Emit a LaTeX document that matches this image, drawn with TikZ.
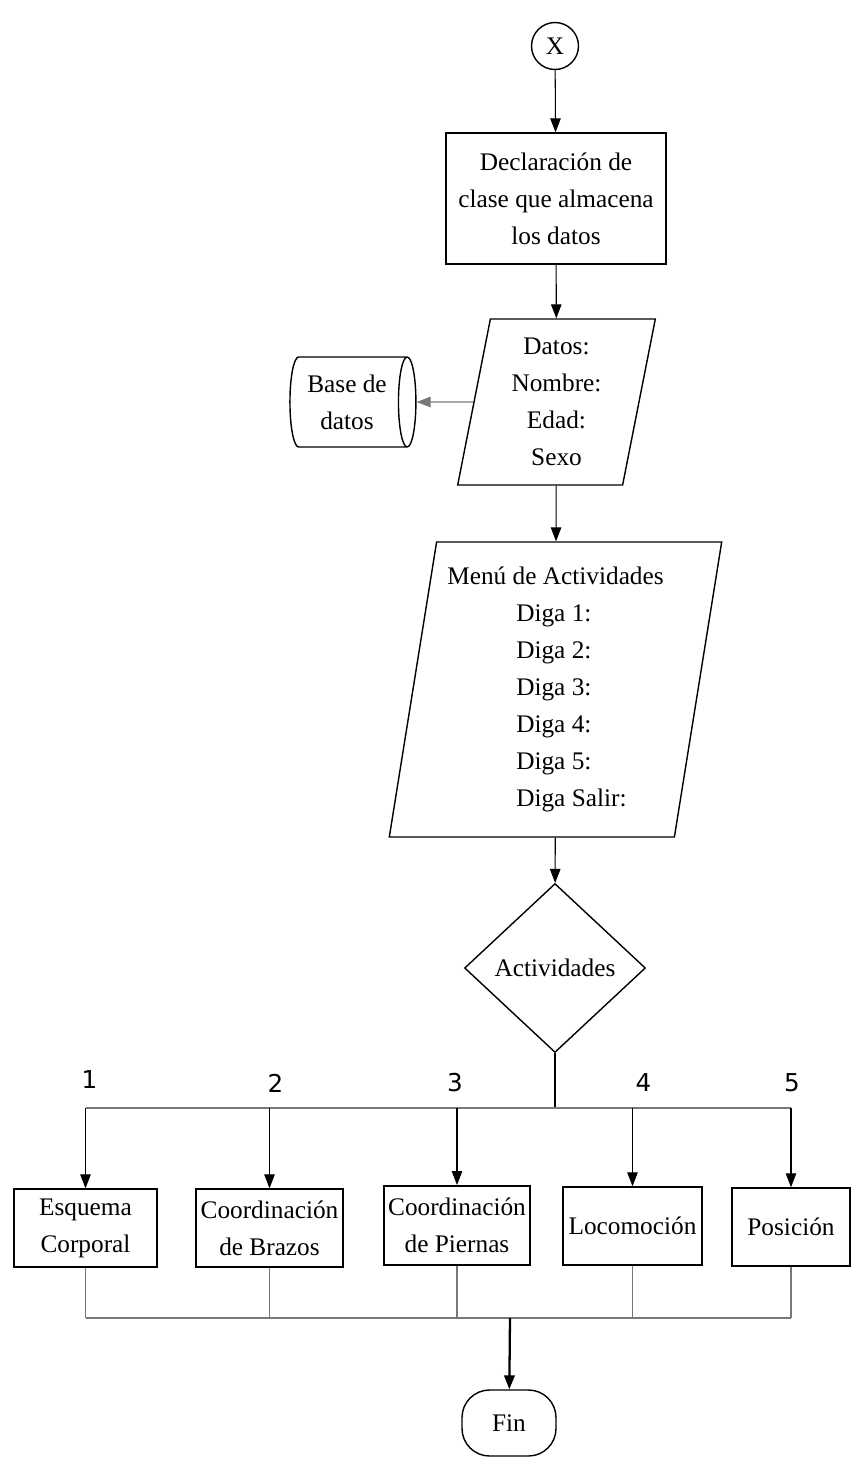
\documentclass[tikz,border=0pt]{standalone}
\usepackage{fontspec}
\usepackage{tikz}
\usepackage{xcolor}
\usetikzlibrary{shapes.geometric, arrows.meta, positioning, calc}
\setmainfont{Liberation Serif}
\newfontfamily\numfont{DejaVu Sans}
\definecolor{cLine}{RGB}{120,120,120}
\tikzset{
	conn/.style     ={circle, draw=black, thick, minimum size=0.94cm, inner sep=0pt},
	process/.style  ={rectangle, draw=black, thick, minimum width=4.4cm, minimum height=2.62cm, align=center, inner sep=1pt},
	io/.style       ={trapezium, trapezium left angle=80, trapezium right angle=100, trapezium stretches=true, draw=black, thick, align=center, inner sep=1pt},
	decision/.style ={diamond, draw=black, thick, minimum width=3.62cm, minimum height=3.38cm, inner sep=0pt, align=center},
	store/.style    ={cylinder, shape aspect=0.3, draw=black, thick, minimum width=1.8cm, minimum height=2.52cm, align=center, inner sep=1pt},
	endbox/.style   ={rectangle, rounded corners=0.55cm, draw=black, thick, minimum width=1.88cm, minimum height=1.32cm},
	actbox/.style   ={rectangle, draw=black, line width=1.1pt, minimum height=1.55cm, align=center, inner sep=1pt},
	numlbl/.style   ={font=\numfont\fontsize{14}{16}\selectfont},
	arr/.style      ={-{Triangle[length=2.8mm, width=2.1mm]}, semithick},
	bus/.style      ={cLine, line width=1.2pt},
}
\newcommand{\dind}{\hspace*{1.38cm}}
\begin{document}
\begin{tikzpicture}[x=0.02cm, y=-0.02cm, font=\fontsize{14.4}{21}\selectfont]
	\useasboundingbox (0,0) rectangle (852,1458);
	% main column
	\node[conn] (x) at (555,46) {X};
	\node[process] (decl) at (556,198.5) {Declaración de\\clase que almacena\\los datos};
	\node[io, minimum width=3.98cm, minimum height=3.32cm] (datos) at (556.5,402) {Datos:\\Nombre:\\Edad:\\Sexo};
	\node[store] (db) at (347,402) {Base de\\datos};
	\node[io, align=left, minimum width=6.66cm, minimum height=5.9cm] (menu) at (555.5,689.5) {Menú de Actividades\\\dind Diga 1:\\\dind Diga 2:\\\dind Diga 3:\\\dind Diga 4:\\\dind Diga 5:\\\dind Diga Salir:};
	\node[decision] (act) at (555,968) {Actividades};
	% activities
	\node[actbox, minimum width=2.86cm] (esq) at (85.5,1228) {Esquema\\Corporal};
	\node[actbox, minimum width=2.94cm] (bra) at (269.5,1228) {Coordinación\\de Brazos};
	\node[actbox, minimum width=2.92cm, minimum height=1.58cm] (pie) at (457,1225.5) {Coordinación\\de Piernas};
	\node[actbox, minimum width=2.78cm] (loc) at (632.5,1226) {Locomoción};
	\node[actbox, minimum width=2.36cm] (pos) at (791,1227) {Posición};
	\node[endbox] (fin) at (509,1423) {Fin};
	\coordinate (split) at (555,1108);
	\coordinate (join) at (510,1318);
	% connectors
	\draw[arr] (x) -- (decl);
	\draw[arr] (decl) -- (datos);
	\draw[arr, cLine] (datos) -- (db);
	\draw[arr] (datos) -- (menu);
	\draw[arr] (menu) -- (act);
	\draw[thick] (act.south) -- (split) -- (pie.north |- split);
	\draw[bus] (esq.north |- split) -- (pos.north |- split);
	\foreach \b/\n/\dx/\dy in {esq/1/4/-28, bra/2/6/-25, pie/3/-2/-25, loc/4/11/-25, pos/5/1/-25}{
		\draw[arr] (\b.north |- split) -- (\b.north);
		\node[numlbl] at ($(\b.north |- split)+(\dx,\dy)$) {\n};
		\draw[bus, line width=0.8pt] (\b.south) -- (\b.south |- join);
	}
	\draw[bus] (esq.south |- join) -- (pos.south |- join);
	\draw[arr, line width=1.3pt] (join) -- (fin);
\end{tikzpicture}
\end{document}
